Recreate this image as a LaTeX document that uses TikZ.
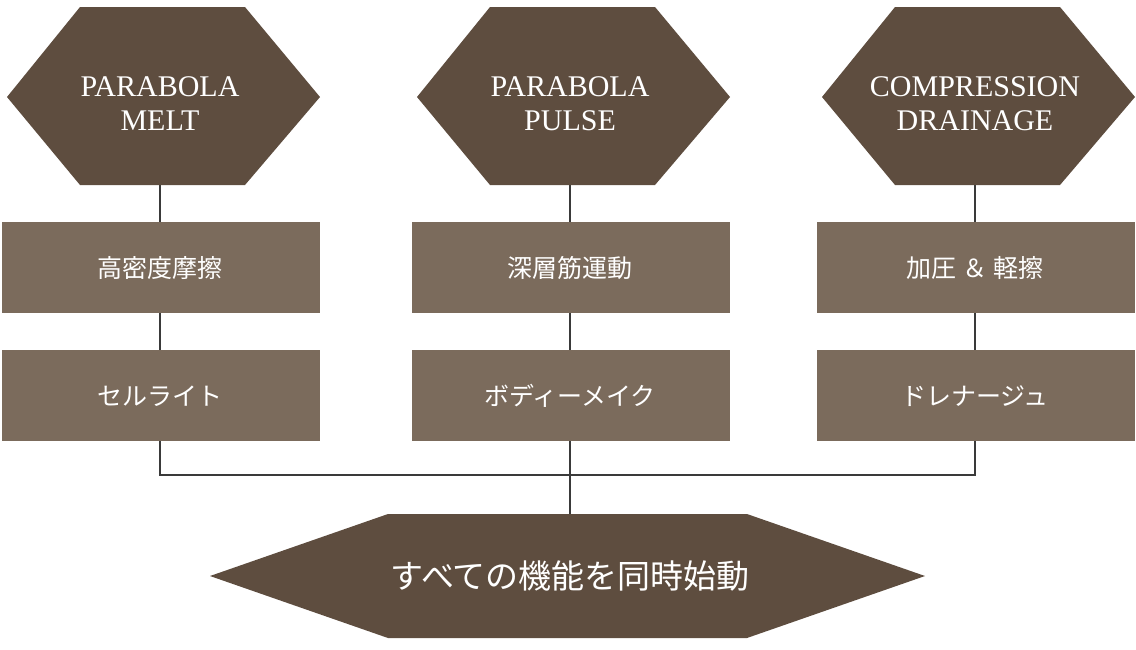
\documentclass[tikz,border=0pt]{standalone}
\usepackage{fontspec}
\setmainfont{Liberation Serif}
\newfontfamily\cjk{Noto Sans CJK JP}
\definecolor{dk}{HTML}{5E4D3F}
\definecolor{lt}{HTML}{7B6B5C}
\definecolor{ln}{HTML}{3A3A3A}
\begin{document}
\begin{tikzpicture}[x=1pt,y=-1pt,
  hx/.style={fill=dk,draw=none},
  bx/.style={fill=lt,draw=none},
  wl/.style={text=white,font=\fontsize{30}{34}\selectfont,align=center},
  wc/.style={text=white,font=\cjk\fontsize{25}{30}\selectfont},
  cn/.style={draw=ln,line width=1.6pt}]
\useasboundingbox (0,0) rectangle (1136,649);
\foreach \c/\n in {160/a,570/b,975/c}{
  \coordinate (top\n) at (\c,185);
  \coordinate (r1\n) at (\c,222);
  \coordinate (r1b\n) at (\c,313);
  \coordinate (r2\n) at (\c,350);
  \coordinate (r2b\n) at (\c,441);
  \coordinate (j\n) at (\c,475);
}
\coordinate (bt) at (570,514);
\draw[cn] (topa)--(r1a) (r1ba)--(r2a) (topb)--(r1b) (r1bb)--(r2b) (topc)--(r1c) (r1bc)--(r2c);
\draw[cn] (r2ba)--(ja)--(jc)--(r2bc) (r2bb)--(bt);
\foreach \c/\n/\t in {160/a/{PARABOLA\\MELT},570/b/{PARABOLA\\PULSE},975/c/{COMPRESSION\\DRAINAGE}}{
  \fill[hx] (\c-153,97)--(\c-80,7)--(\c+85,7)--(\c+160,97)--(\c+85,185)--(\c-80,185)--cycle;
  \node[wl] (h\n) at (\c,104) {\t};
}
\foreach \c/\n/\s/\u in {160/a/高密度摩擦/セルライト,570/b/深層筋運動/ボディーメイク,975/c/加圧 ＆ 軽擦/ドレナージュ}{
  \fill[bx] (\c-158,222) rectangle (\c+160,313);
  \node[wc] (s\n) at (\c,268) {\s};
  \fill[bx] (\c-158,350) rectangle (\c+160,441);
  \node[wc] (u\n) at (\c,396) {\u};
}
\fill[hx] (210,576)--(388,514)--(747,514)--(925,576)--(747,638)--(388,638)--cycle;
\node[text=white,font=\cjk\fontsize{33}{38}\selectfont] (bottom) at (570,576) {すべての機能を同時始動};
\end{tikzpicture}
\end{document}
